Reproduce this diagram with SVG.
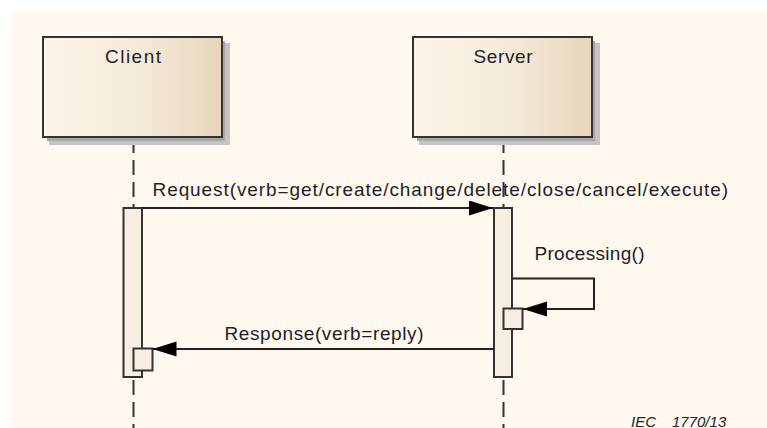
<svg xmlns="http://www.w3.org/2000/svg" width="767" height="428" viewBox="0 0 767 428">
<defs>
<linearGradient id="boxGrad" x1="0" y1="0" x2="1" y2="0">
<stop offset="0" stop-color="#FBF4E8"/>
<stop offset="0.5" stop-color="#F6ECDC"/>
<stop offset="1" stop-color="#E8D6BA"/>
</linearGradient>
<marker id="arrow" markerUnits="userSpaceOnUse" markerWidth="25" markerHeight="16" refX="24" refY="7.5" orient="auto">
<path d="M0,0 L24,7.5 L0,15 Z" fill="#000"/>
</marker>
</defs>
<style>
.lbl{font-family:"Liberation Sans",Arial,sans-serif;font-size:19px;fill:#1e1e28}
.box{fill:url(#boxGrad);stroke:#333;stroke-width:2}
.shadow1{fill:#c4c4c4}
.shadow2{fill:#a8a8a8}
.life{stroke:#333;stroke-width:2;stroke-dasharray:15 7;fill:none}
.act{fill:#F8EFE2;stroke:#333;stroke-width:2}
.msg{stroke:#222;stroke-width:2;fill:none;marker-end:url(#arrow)}
.note{font-family:"Liberation Sans",Arial,sans-serif;font-size:15px;font-style:italic;fill:#222}
</style>
<rect x="0" y="0" width="767" height="428" fill="#ffffff"/>
<rect x="11" y="10" width="756" height="418" fill="#FFF9F0"/>

<g id="lifelines">
<line class="life" x1="133.5" y1="138" x2="133.5" y2="428"/>
<line class="life" x1="503.5" y1="138" x2="503.5" y2="428"/>
</g>

<g id="client">
<rect class="shadow1" x="49" y="43" width="181" height="102"/>
<rect class="shadow2" x="47" y="41" width="178" height="100"/>
<rect class="box" x="43" y="37" width="179" height="100"/>
<text class="lbl" x="105" y="63" textLength="56" lengthAdjust="spacing">Client</text>
</g>

<g id="server">
<rect class="shadow1" x="419" y="43" width="181" height="102"/>
<rect class="shadow2" x="417" y="41" width="178" height="100"/>
<rect class="box" x="413" y="37" width="179" height="100"/>
<text class="lbl" x="473.5" y="63" textLength="59" lengthAdjust="spacing">Server</text>
</g>

<g id="client-activation">
<rect class="act" x="123.5" y="208" width="18.5" height="169"/>
<rect class="act" x="133.5" y="348.5" width="19" height="22"/>
</g>

<g id="server-activation">
<rect class="act" x="494" y="208" width="18" height="169"/>
<rect class="act" x="503.5" y="308.5" width="19" height="20.5"/>
</g>

<g id="connectors">
<line class="msg" x1="142" y1="208" x2="493" y2="208"/>
<path class="msg" d="M512,278.5 H594 V309 H523"/>
<line class="msg" x1="494" y1="349" x2="152.5" y2="349"/>
</g>

<g id="labels">
<text class="lbl" x="152.5" y="195.5" textLength="575.5" lengthAdjust="spacing">Request(verb=get/create/change/delete/close/cancel/execute)</text>
<text class="lbl" x="534.5" y="260" textLength="110" lengthAdjust="spacing">Processing()</text>
<text class="lbl" x="224.5" y="339.5" textLength="199" lengthAdjust="spacing">Response(verb=reply)</text>
</g>

<text class="note" y="426.5"><tspan x="631">IEC</tspan><tspan x="672">1770/13</tspan></text>
</svg>
